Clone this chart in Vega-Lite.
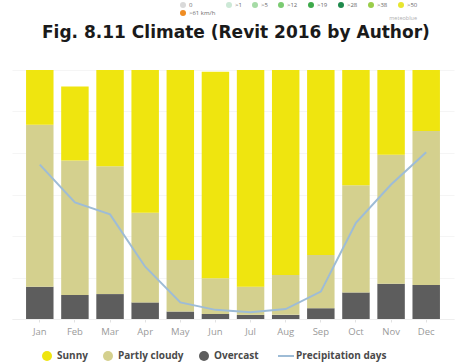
{
  "$schema": "https://vega.github.io/schema/vega-lite/v6.json",
  "width": 442,
  "height": 249,
  "autosize": {"type": "none"},
  "padding": {"left": 12, "top": 70, "right": 9, "bottom": 45},
  "background": "white",
  "title": {
    "text": "Fig. 8.11 Climate (Revit 2016 by Author)",
    "anchor": "start",
    "dx": 30,
    "offset": -40,
    "font": "DejaVu Sans",
    "fontSize": 17,
    "fontWeight": "bold",
    "color": "#1a1a1a"
  },
  "config": {
    "view": {"stroke": null},
    "axis": {"labelFont": "Open Sans", "titleFont": "Open Sans"},
    "legend": {"labelFont": "Open Sans", "titleFont": "Open Sans"}
  },
  "datasets": {
    "clouds": [
      {"month": "Jan", "type": "Overcast", "days": 3.9},
      {"month": "Jan", "type": "Partly cloudy", "days": 19.5},
      {"month": "Jan", "type": "Sunny", "days": 6.6},
      {"month": "Feb", "type": "Overcast", "days": 2.9},
      {"month": "Feb", "type": "Partly cloudy", "days": 16.2},
      {"month": "Feb", "type": "Sunny", "days": 8.9},
      {"month": "Mar", "type": "Overcast", "days": 3.0},
      {"month": "Mar", "type": "Partly cloudy", "days": 15.4},
      {"month": "Mar", "type": "Sunny", "days": 11.6},
      {"month": "Apr", "type": "Overcast", "days": 2.0},
      {"month": "Apr", "type": "Partly cloudy", "days": 10.8},
      {"month": "Apr", "type": "Sunny", "days": 17.2},
      {"month": "May", "type": "Overcast", "days": 0.9},
      {"month": "May", "type": "Partly cloudy", "days": 6.2},
      {"month": "May", "type": "Sunny", "days": 22.9},
      {"month": "Jun", "type": "Overcast", "days": 0.6},
      {"month": "Jun", "type": "Partly cloudy", "days": 4.3},
      {"month": "Jun", "type": "Sunny", "days": 24.9},
      {"month": "Jul", "type": "Overcast", "days": 0.5},
      {"month": "Jul", "type": "Partly cloudy", "days": 3.4},
      {"month": "Jul", "type": "Sunny", "days": 26.1},
      {"month": "Aug", "type": "Overcast", "days": 0.5},
      {"month": "Aug", "type": "Partly cloudy", "days": 4.8},
      {"month": "Aug", "type": "Sunny", "days": 24.7},
      {"month": "Sep", "type": "Overcast", "days": 1.3},
      {"month": "Sep", "type": "Partly cloudy", "days": 6.4},
      {"month": "Sep", "type": "Sunny", "days": 22.3},
      {"month": "Oct", "type": "Overcast", "days": 3.2},
      {"month": "Oct", "type": "Partly cloudy", "days": 12.9},
      {"month": "Oct", "type": "Sunny", "days": 13.9},
      {"month": "Nov", "type": "Overcast", "days": 4.25},
      {"month": "Nov", "type": "Partly cloudy", "days": 15.55},
      {"month": "Nov", "type": "Sunny", "days": 10.2},
      {"month": "Dec", "type": "Overcast", "days": 4.1},
      {"month": "Dec", "type": "Partly cloudy", "days": 18.55},
      {"month": "Dec", "type": "Sunny", "days": 7.35}
    ],
    "precip": [
      {"month": "Jan", "days": 18.6},
      {"month": "Feb", "days": 14.05},
      {"month": "Mar", "days": 12.6},
      {"month": "Apr", "days": 6.3},
      {"month": "May", "days": 2.0},
      {"month": "Jun", "days": 1.1},
      {"month": "Jul", "days": 0.8},
      {"month": "Aug", "days": 1.2},
      {"month": "Sep", "days": 3.3},
      {"month": "Oct", "days": 11.6},
      {"month": "Nov", "days": 16.2},
      {"month": "Dec", "days": 20.1}
    ],
    "wind": [
      {"speed": "0"}, {"speed": ">1"}, {"speed": ">5"}, {"speed": ">12"}, {"speed": ">19"},
      {"speed": ">28"}, {"speed": ">38"}, {"speed": ">50"}, {"speed": ">61 km/h"}
    ]
  },
  "layer": [
    {
      "data": {"name": "clouds"},
      "mark": {"type": "bar"},
      "encoding": {
        "x": {
          "field": "month",
          "type": "ordinal",
          "sort": ["Jan", "Feb", "Mar", "Apr", "May", "Jun", "Jul", "Aug", "Sep", "Oct", "Nov", "Dec"],
          "scale": {"paddingInner": 0.218, "paddingOuter": 0.4},
          "axis": {
            "title": null,
            "labelAngle": 0,
            "labelFontSize": 9.5,
            "labelColor": "#9a9a9a",
            "labelPadding": 4,
            "tickColor": "#e2e2e2",
            "tickSize": 3,
            "domainColor": "#eeeeee"
          }
        },
        "y": {
          "field": "days",
          "type": "quantitative",
          "stack": "zero",
          "scale": {"domain": [0, 30]},
          "axis": {
            "title": null,
            "labels": false,
            "ticks": false,
            "domain": false,
            "gridColor": "#f5f5f5",
            "values": [0, 5, 10, 15, 20, 25, 30]
          }
        },
        "color": {
          "field": "type",
          "type": "nominal",
          "scale": {
            "domain": ["Sunny", "Partly cloudy", "Overcast", "Precipitation days"],
            "range": ["#efe50f", "#d4d08e", "#5d5d5d", "#9ebcd6"]
          },
          "legend": {
            "title": null,
            "orient": "none",
            "direction": "horizontal",
            "legendX": 30,
            "legendY": 281,
            "labelFontSize": 10,
            "labelFontWeight": "bold",
            "labelColor": "#4a4a4a",
            "labelOffset": 5,
            "columnPadding": 15,
            "symbolSize": 100,
            "encode": {
              "symbols": {
                "update": {
                  "shape": {"signal": "datum.label === 'Precipitation days' ? 'stroke' : 'circle'"},
                  "size": {"signal": "datum.label === 'Precipitation days' ? 256 : 100"},
                  "fill": {"signal": "datum.label === 'Precipitation days' ? 'transparent' : scale('color', datum.value)"},
                  "stroke": {"signal": "scale('color', datum.value)"},
                  "strokeWidth": {"signal": "datum.label === 'Precipitation days' ? 2 : 0"},
                  "opacity": {"value": 1}
                }
              }
            }
          }
        },
        "order": {"field": "type", "sort": "ascending"}
      }
    },
    {
      "data": {"name": "precip"},
      "mark": {"type": "line", "strokeWidth": 2},
      "encoding": {
        "x": {"field": "month", "type": "ordinal", "sort": ["Jan", "Feb", "Mar", "Apr", "May", "Jun", "Jul", "Aug", "Sep", "Oct", "Nov", "Dec"]},
        "y": {"field": "days", "type": "quantitative"},
        "color": {"datum": "Precipitation days"}
      }
    },
    {
      "data": {"name": "wind"},
      "mark": {"type": "point", "filled": true, "opacity": 0},
      "encoding": {
        "fill": {
          "field": "speed",
          "type": "nominal",
          "scale": {
            "domain": ["0", ">1", ">5", ">12", ">19", ">28", ">38", ">50", ">61 km/h"],
            "range": ["#d9d9d9", "#cce8d6", "#a6dba6", "#7bcb72", "#3eaa4b", "#1f8a4d", "#9acd4a", "#e7e62f", "#ef8c22"]
          },
          "legend": {
            "title": "meteoblue",
            "titleOrient": "bottom",
            "titleAnchor": "end",
            "titleFontSize": 5.5,
            "titleFontWeight": "normal",
            "titleColor": "#b0b0b0",
            "titlePadding": 0,
            "orient": "none",
            "direction": "horizontal",
            "legendX": 168,
            "legendY": -68,
            "columns": 8,
            "symbolType": "circle",
            "symbolSize": 36,
            "symbolOpacity": 1,
            "symbolStrokeWidth": 0,
            "labelFontSize": 6,
            "labelColor": "#6a6a6a",
            "labelOffset": 3,
            "columnPadding": 10,
            "rowPadding": 2
          }
        }
      }
    }
  ]
}
